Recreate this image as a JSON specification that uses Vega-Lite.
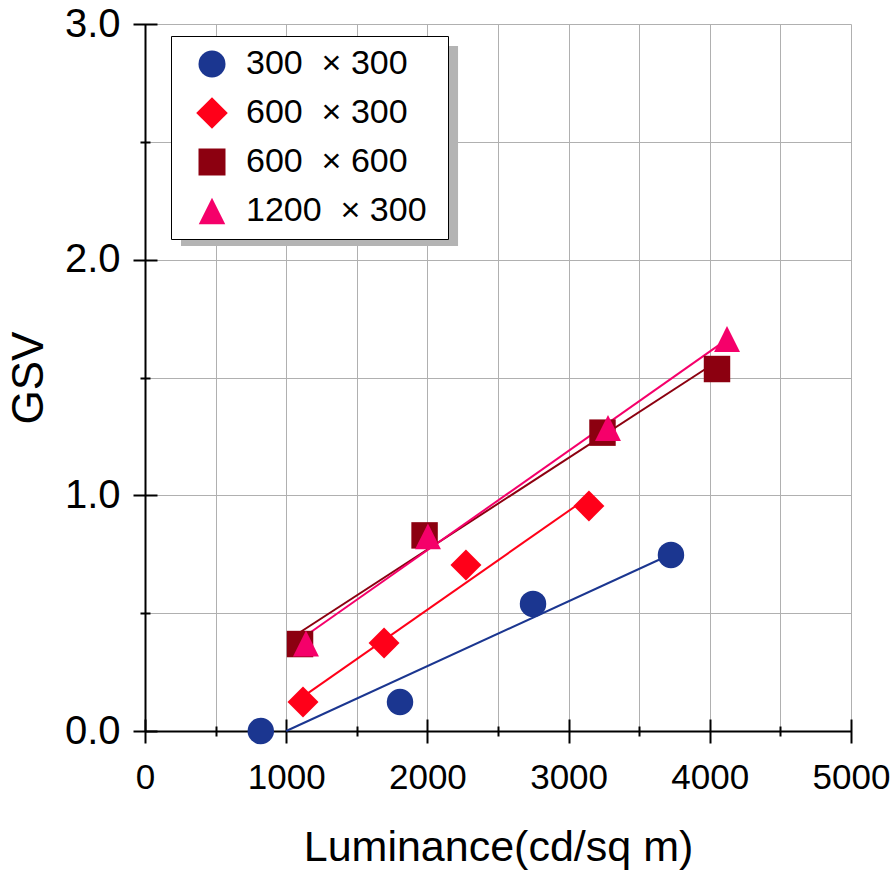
{
  "$schema": "https://vega.github.io/schema/vega-lite/v6.json",
  "width": 706,
  "height": 707,
  "autosize": "none",
  "padding": {"left": 145, "top": 24, "right": 43, "bottom": 140},
  "background": "white",
  "config": {
    "view": {"stroke": null},
    "font": "Liberation Sans",
    "axis": {
      "labelFont": "Liberation Sans",
      "titleFont": "Liberation Sans",
      "labelColor": "black",
      "titleColor": "black",
      "titleFontWeight": "normal",
      "tickColor": "black",
      "tickWidth": 2,
      "domainColor": "black",
      "domainWidth": 2,
      "gridColor": "#b0b0b0",
      "gridWidth": 1,
      "gridOpacity": 1,
      "labelFlush": false,
      "labelOverlap": false
    }
  },
  "datasets": {
    "points": [
      {"series": "300\u00a0\u00a0× 300", "Luminance": 820, "GSV": 0.0},
      {"series": "300\u00a0\u00a0× 300", "Luminance": 1806, "GSV": 0.123},
      {"series": "300\u00a0\u00a0× 300", "Luminance": 2748, "GSV": 0.539},
      {"series": "300\u00a0\u00a0× 300", "Luminance": 3725, "GSV": 0.747},
      {"series": "600\u00a0\u00a0× 300", "Luminance": 1119, "GSV": 0.123},
      {"series": "600\u00a0\u00a0× 300", "Luminance": 1693, "GSV": 0.373},
      {"series": "600\u00a0\u00a0× 300", "Luminance": 2273, "GSV": 0.704},
      {"series": "600\u00a0\u00a0× 300", "Luminance": 3144, "GSV": 0.955},
      {"series": "600\u00a0\u00a0× 600", "Luminance": 1098, "GSV": 0.369},
      {"series": "600\u00a0\u00a0× 600", "Luminance": 1980, "GSV": 0.83},
      {"series": "600\u00a0\u00a0× 600", "Luminance": 3240, "GSV": 1.266},
      {"series": "600\u00a0\u00a0× 600", "Luminance": 4051, "GSV": 1.536},
      {"series": "1200\u00a0\u00a0× 300", "Luminance": 1140, "GSV": 0.371},
      {"series": "1200\u00a0\u00a0× 300", "Luminance": 2004, "GSV": 0.826},
      {"series": "1200\u00a0\u00a0× 300", "Luminance": 3279, "GSV": 1.286},
      {"series": "1200\u00a0\u00a0× 300", "Luminance": 4122, "GSV": 1.663}
    ],
    "fits": [
      {"series": "300\u00a0\u00a0× 300", "Luminance": 1000, "GSV": 0.0},
      {"series": "300\u00a0\u00a0× 300", "Luminance": 3725, "GSV": 0.75},
      {"series": "600\u00a0\u00a0× 300", "Luminance": 1119, "GSV": 0.146},
      {"series": "600\u00a0\u00a0× 300", "Luminance": 3144, "GSV": 0.994},
      {"series": "600\u00a0\u00a0× 600", "Luminance": 1098, "GSV": 0.419},
      {"series": "600\u00a0\u00a0× 600", "Luminance": 4051, "GSV": 1.568},
      {"series": "1200\u00a0\u00a0× 300", "Luminance": 1140, "GSV": 0.405},
      {"series": "1200\u00a0\u00a0× 300", "Luminance": 4122, "GSV": 1.662}
    ]
  },
  "layer": [
    {
      "data": {"values": [{}]},
      "mark": {"type": "rect", "color": "#b4b4b4"},
      "encoding": {
        "x": {
          "datum": 255, "type": "quantitative",
          "scale": {"domain": [0, 5000], "nice": false, "zero": false},
          "axis": {
            "orient": "bottom",
            "values": [0, 500, 1000, 1500, 2000, 2500, 3000, 3500, 4000, 4500, 5000],
            "grid": true, "ticks": false,
            "labelExpr": "datum.value % 1000 === 0 ? format(datum.value, 'd') : ''",
            "labelFontSize": 35, "labelPadding": 29,
            "title": "Luminance(cd/sq m)", "titleFontSize": 43,
            "titleX": 353, "titleY": 129, "titleAlign": "center", "titleBaseline": "alphabetic"
          }
        },
        "x2": {"datum": 2217},
        "y": {
          "datum": 2.907, "type": "quantitative",
          "scale": {"domain": [0, 3], "nice": false, "zero": false},
          "axis": {
            "orient": "left",
            "values": [0, 0.5, 1, 1.5, 2, 2.5, 3],
            "grid": true, "ticks": false,
            "labelExpr": "datum.value % 1 === 0 ? format(datum.value, '.1f') : ''",
            "labelFontSize": 40, "labelPadding": 25,
            "title": "GSV", "titleFontSize": 44, "titleAngle": -90,
            "titleX": -103, "titleY": 353.5, "titleAlign": "center", "titleBaseline": "alphabetic"
          }
        },
        "y2": {"datum": 2.058}
      }
    },
    {
      "data": {"name": "fits"},
      "mark": {"type": "line", "strokeWidth": 2},
      "encoding": {
        "x": {
          "field": "Luminance", "type": "quantitative",
          "scale": {"domain": [0, 5000], "nice": false, "zero": false},
          "axis": {"orient": "bottom", "values": [0, 1000, 2000, 3000, 4000, 5000], "offset": -12, "tickSize": 24, "labels": false, "domain": false, "grid": false, "title": null}
        },
        "y": {
          "field": "GSV", "type": "quantitative",
          "scale": {"domain": [0, 3], "nice": false, "zero": false},
          "axis": {"orient": "left", "values": [0, 1, 2, 3], "offset": -12, "tickSize": 24, "labels": false, "domain": false, "grid": false, "title": null}
        },
        "color": {
          "field": "series", "type": "nominal",
          "scale": {"domain": ["300\u00a0\u00a0× 300", "600\u00a0\u00a0× 300", "600\u00a0\u00a0× 600", "1200\u00a0\u00a0× 300"], "range": ["#1b3690", "#ff0019", "#8c0010", "#f5006a"]},
          "legend": null
        }
      }
    },
    {
      "data": {"name": "points"},
      "mark": {"type": "point", "filled": true, "opacity": 1, "strokeWidth": 0, "size": 700},
      "encoding": {
        "x": {
          "field": "Luminance", "type": "quantitative",
          "scale": {"domain": [0, 5000], "nice": false, "zero": false},
          "axis": {"orient": "bottom", "values": [500, 1500, 2500, 3500, 4500], "offset": -5, "tickSize": 10, "labels": false, "domain": false, "grid": false, "title": null}
        },
        "y": {
          "field": "GSV", "type": "quantitative",
          "scale": {"domain": [0, 3], "nice": false, "zero": false},
          "axis": {"orient": "left", "values": [0.5, 1.5, 2.5], "offset": -5, "tickSize": 10, "labels": false, "domain": false, "grid": false, "title": null}
        },
        "color": {
          "field": "series", "type": "nominal",
          "scale": {"domain": ["300\u00a0\u00a0× 300", "600\u00a0\u00a0× 300", "600\u00a0\u00a0× 600", "1200\u00a0\u00a0× 300"], "range": ["#1b3690", "#ff0019", "#8c0010", "#f5006a"]},
          "legend": {
            "title": null, "orient": "none", "legendX": 26, "legendY": 12,
            "fillColor": "white", "strokeColor": "black",
            "padding": 11, "symbolOffset": 13, "symbolSize": 729, "symbolStrokeWidth": 0,
            "labelFont": "Liberation Sans", "labelFontSize": 34, "labelColor": "black",
            "labelOffset": 17, "rowPadding": 15, "labelLimit": 400,
            "labelExpr": "datum.label + '\u00a0\u200b'"
          }
        },
        "shape": {
          "field": "series", "type": "nominal",
          "scale": {"domain": ["300\u00a0\u00a0× 300", "600\u00a0\u00a0× 300", "600\u00a0\u00a0× 600", "1200\u00a0\u00a0× 300"], "range": ["circle", "M-1.17,0L0,-1.17L1.17,0L0,1.17Z", "square", "M0,-0.98L0.98,0.98L-0.98,0.98Z"]},
          "legend": {
            "title": null, "orient": "none", "legendX": 26, "legendY": 12,
            "fillColor": "white", "strokeColor": "black",
            "padding": 11, "symbolOffset": 13, "symbolSize": 729, "symbolStrokeWidth": 0,
            "labelFont": "Liberation Sans", "labelFontSize": 34, "labelColor": "black",
            "labelOffset": 17, "rowPadding": 15, "labelLimit": 400,
            "labelExpr": "datum.label + '\u00a0\u200b'"
          }
        }
      }
    }
  ],
  "resolve": {"axis": {"x": "independent", "y": "independent"}, "legend": {"color": "independent", "shape": "independent"}}
}
